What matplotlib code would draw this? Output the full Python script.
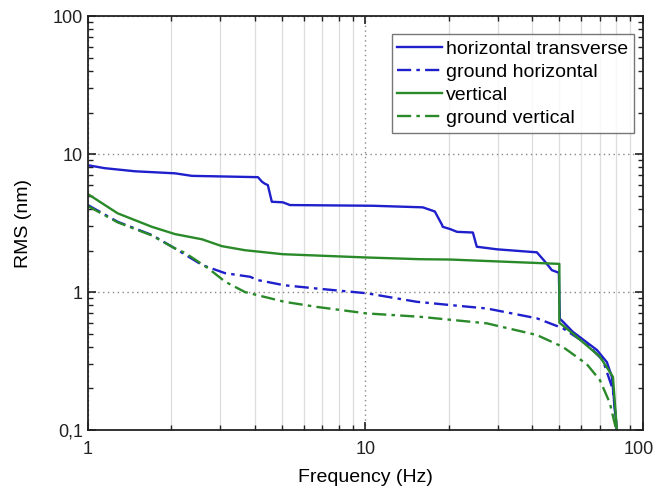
import matplotlib
matplotlib.use("Agg")
import matplotlib.pyplot as plt
from matplotlib.ticker import LogLocator, FixedLocator, FixedFormatter, NullFormatter
from matplotlib.transforms import ScaledTranslation

plt.rcParams['font.family'] = ['Liberation Sans', 'DejaVu Sans']

# horizontal transverse
ht_f = [1.0, 1.15, 1.48, 2.06, 2.37, 4.10, 4.24, 4.34, 4.45, 4.60, 5.04, 5.35, 10.6, 16.1, 17.5,
        17.8, 18.9, 19.0, 20.2, 21.4, 24.4, 25.2, 29.8, 41.5, 44.4, 47.0, 49.8, 50.2, 51.5,
        55.9, 68.3, 74.2, 77.3, 80.6]
ht_v = [8.3, 7.9, 7.5, 7.25, 6.95, 6.8, 6.3, 6.1, 5.96, 4.51, 4.47, 4.27, 4.22, 4.11, 3.88,
        3.83, 3.06, 2.97, 2.86, 2.73, 2.70, 2.13, 2.04, 1.94, 1.66, 1.44, 1.38, 0.64, 0.61,
        0.515, 0.38, 0.31, 0.243, 0.1]

# ground horizontal
gh_f = [1.0, 1.28, 1.70, 2.06, 2.58, 3.12, 3.84, 4.10, 5.10, 6.69, 10.1, 15.3, 20.2, 27.4,
        41.5, 51.5, 62.8, 71.8, 78.0, 80.6]
gh_v = [4.27, 3.23, 2.59, 2.07, 1.57, 1.37, 1.29, 1.22, 1.12, 1.06, 0.98, 0.85, 0.805, 0.76,
        0.645, 0.546, 0.42, 0.32, 0.195, 0.1]

# vertical
v_f = [1.0, 1.28, 1.70, 2.06, 2.58, 3.04, 3.68, 5.04, 10.1, 15.7, 20.2, 50.0, 50.0, 55.9,
       70.0, 78.0, 80.6]
v_v = [5.13, 3.72, 2.97, 2.63, 2.41, 2.15, 2.01, 1.88, 1.78, 1.73, 1.72, 1.60, 0.60, 0.50,
       0.34, 0.243, 0.1]

# ground vertical
gv_f = [1.0, 1.28, 1.70, 2.06, 2.24, 2.71, 3.12, 3.68, 5.10, 6.69, 10.1, 15.7, 27.4, 41.5,
        51.5, 62.8, 70.0, 76.0, 80.2]
gv_v = [4.2, 3.2, 2.57, 2.07, 1.92, 1.49, 1.19, 1.0, 0.85, 0.78, 0.70, 0.662, 0.593, 0.488,
        0.40, 0.30, 0.23, 0.157, 0.1]

x_ticks = [1, 10, 100]
x_labels = ['1', '10', '100']
y_ticks = [0.1, 1, 10, 100]
y_labels = ['0,1', '1', '10', '100']

blue = '#1f1fcc'
green = '#2a8a2a'
dashdot = (0, (6, 2.2, 1.5, 2.2))

fig = plt.figure(figsize=(6.56, 4.87), dpi=100)
ax = fig.add_axes([0.134, 0.117, 0.846, 0.850])

ax.plot(ht_f, ht_v, color=blue, lw=1.7, label='horizontal transverse')
ax.plot(gh_f, gh_v, color=blue, lw=1.7, ls=dashdot, label='ground horizontal')
ax.plot(v_f, v_v, color=green, lw=1.7, label='vertical')
ax.plot(gv_f, gv_v, color=green, lw=1.7, ls=dashdot, label='ground vertical')

ax.set_xscale('log')
ax.set_yscale('log')
ax.set_xlim(1, 100)
ax.set_ylim(0.1, 100)

ax.xaxis.set_major_locator(FixedLocator(x_ticks))
ax.xaxis.set_major_formatter(FixedFormatter(x_labels))
ax.yaxis.set_major_locator(FixedLocator(y_ticks))
ax.yaxis.set_major_formatter(FixedFormatter(y_labels))
ax.xaxis.set_minor_locator(LogLocator(base=10, subs=range(2, 10)))
ax.yaxis.set_minor_locator(LogLocator(base=10, subs=range(2, 10)))
ax.xaxis.set_minor_formatter(NullFormatter())
ax.yaxis.set_minor_formatter(NullFormatter())

ax.tick_params(which='both', direction='in', top=True, right=True, labelsize=13, colors='#222222')
ax.tick_params(which='major', length=6, width=1.2)
ax.tick_params(which='minor', length=3.5, width=1.0)
ax.tick_params(axis='x', pad=8)

ax.grid(which='minor', axis='x', color='#dddddd', lw=0.9, ls='-')
ax.grid(which='major', axis='both', color='#888888', lw=1.0, ls=(0, (1, 2.5)))
ax.set_axisbelow(True)

for s in ax.spines.values():
    s.set_linewidth(1.3)
    s.set_color('#222222')

ax.set_xlabel('Frequency (Hz)', fontsize=14, labelpad=8)
ax.set_ylabel('RMS (nm)', fontsize=14, labelpad=15)

# nudge the last x tick label so it stays inside the figure
last = ax.get_xticklabels()[-1]
last.set_transform(last.get_transform() + ScaledTranslation(-4 / 100, 0, fig.dpi_scale_trans))

leg = ax.legend(loc='upper right', bbox_to_anchor=(0.984, 0.9565), fontsize=14, frameon=True,
                fancybox=False, edgecolor='#555555', handlelength=2.3, borderpad=0.3,
                labelspacing=0.28, handletextpad=0.2, borderaxespad=0.0)
leg.get_frame().set_linewidth(1.0)

fig.savefig('out.png', dpi=100)
